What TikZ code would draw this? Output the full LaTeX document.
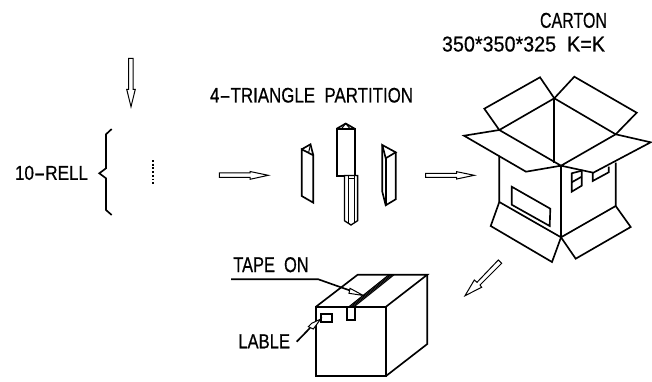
\documentclass[tikz,border=0pt]{standalone}
\usepackage{fontspec}
\usepackage{graphicx}
\setmainfont[FakeBold=0.6]{Liberation Sans}
\newcommand{\fitlabel}[3]{\resizebox{#1pt}{#2pt}{#3}}
\newcommand{\longdash}{\scalebox{2}[1]{-}}
\tikzset{
  lbl/.style={anchor=south west,inner sep=0pt,outer sep=0pt,text=black},
  ln/.style={draw=black,line width=1.65pt,line join=miter},
  thin ln/.style={draw=black,line width=1pt,line join=miter},
  tapeln/.style={draw=black,line width=1.05pt},
  openarrow/.style={draw=black,fill=white,line width=1pt,line join=miter}
}
\begin{document}
\begin{tikzpicture}[x=1pt,y=-1pt]
\useasboundingbox (0,0) rectangle (652,382);
% texts
\node[lbl] (carton) at (540,28) {\fitlabel{67}{15}{CARTON}};
\node[lbl] (size) at (442,51.7) {\fitlabel{163}{15}{350*350*325\ \ K=K}};
\node[lbl] (tri) at (210,102.7) {\fitlabel{203}{14.7}{4\longdash TRIANGLE\ \ PARTITION}};
\node[lbl] (rell) at (15,180) {\fitlabel{73}{14}{10\longdash RELL}};
\node[lbl] (tape) at (233.3,272.3) {\fitlabel{75.4}{15}{TAPE\ \ ON}};
\node[lbl] (lable) at (238.3,348.3) {\fitlabel{51.7}{14}{LABLE}};
% down arrow
\draw[openarrow] (128.7,58.3)--(133,58.3)--(133,89.3)--(135.3,89.3)--(131,106.7)--(126.7,89.3)--(128.7,89.3)--cycle;
% brace
\draw[ln] (111.7,129)--(106,134.3)--(106,168.3)--(99.3,173.3)--(106,178.3)--(106,210)--(111.7,215);
% dots
\draw[black,line width=2pt,dash pattern=on 1.8pt off 1.9pt] (153,160)--(153,185);
% arrow 1
\draw[openarrow] (219.3,172.9)--(250,172.9)--(250,171.5)--(268.3,175.3)--(250,179.3)--(250,177.3)--(219.3,177.3)--cycle;
% partitions: left
\draw[ln] (301.7,149.3)--(301.7,196)--(313.3,202.7)--(313.3,155.3)--cycle;
\draw[ln] (301.7,149.3)--(310.5,144.3)--(313.3,155.3);
\draw[thin ln] (310.5,144.3)--(308.5,153);
% centre
\draw[ln] (345,176)--(336.7,176)--(336.7,128.7)--(354.7,128.7)--(354.7,175);
\draw[ln] (336.7,128.7)--(345.7,123.5)--(354.7,128.7);
\draw[thin ln] (345.7,123.5)--(341.5,128.7) (345.7,123.5)--(350,128.7);
% lower
\draw[black,line width=1.3pt,line join=miter] (344.4,175.5)--(357.6,175.5)--(357.6,220.7)--(351,225)--(344.4,220.7)--cycle;
\draw[thin ln] (348,176)--(348,222.7) (354,176)--(354,222.7) (348,178)--(354,178);
% right
\draw[ln] (382.3,145)--(395.7,152.3)--(385.7,158.3)--cycle;
\draw[ln] (382.3,145)--(382.3,191.7)--(385.7,205.3)--(395.7,199.3)--(395.7,152.3);
\draw[ln] (385.7,158.3)--(385.7,205.3);
% arrow 2
\draw[openarrow] (425.7,173.3)--(456.7,173.3)--(456.7,171.7)--(474.3,175.3)--(456.7,179)--(456.7,177.3)--(425.7,177.3)--cycle;
% carton
\draw[ln] (554.3,98.3)--(540,77.3)--(484.3,108.7)--(499.3,130);
\draw[ln] (554.3,98.3)--(574.3,76.7)--(636.7,112.7)--(615.7,134.3);
\draw[ln] (499.3,130)--(554.3,98.3)--(615.7,134.3);
\draw[ln] (554.3,98.3)--(554.3,163);
\draw[ln] (499.3,130)--(464,135.7)--(526,171.7)--(561,165.7)--cycle;
\draw[ln] (615.7,134.3)--(650.7,142.3)--(593.3,172.7)--(561,165.7)--cycle;
\draw[ln] (561,165.7)--(561,237.3);
\draw[ln] (499.3,156)--(499.3,202)--(561,237.3)--(615.7,206)--(615.7,162.7);
\draw[ln] (499.3,202)--(490.7,226)--(552,262)--(561,237.3)--(575.7,258.7)--(630.7,227)--(615.7,206);
\draw[ln] (511.7,186.7)--(550.3,208.7)--(549.7,226)--(511.7,204.7)--cycle;
\draw[ln] (571.7,173.3)--(581.7,170.7)--(581.7,185.7)--(571.7,191.7)--cycle;
\draw[ln] (571.7,182.3)--(581.7,176.7);
\draw[ln] (592.7,172.7)--(592.7,181)--(608.7,172.3)--(608.7,166.7);
% diagonal arrow
\draw[openarrow] (498.3,260)--(501.7,263.3)--(480,285)--(481.7,287.3)--(465,295.7)--(474.3,280)--(477,282.3)--cycle;
% closed box
\draw[ln] (316,306.7) rectangle (386,376);
\draw[ln] (316,306.7)--(357.7,274.7)--(427.3,274.7)--(386,306.7);
\draw[ln] (427.3,274.7)--(427.3,344)--(386,376);
% tape
\foreach \d in {0,1.7,3.4,5.1}{\draw[tapeln] (349+\d,306.7)--(389+\d,274.7);}
\draw[ln] (347,306.7)--(347,320)--(354.7,320)--(354.7,306.7);
% label sticker
\draw[ln] (321,314) rectangle (332.3,322.3);
% leaders
\coordinate (tapestart) at (231,279.3);
\coordinate (tapebend) at (318.3,279.3);
\coordinate (tapetip) at (363.3,295.5);
\draw[ln] (tapestart)--(tapebend)--(350,290.5);
\draw[openarrow] (350,288.3)--(tapetip)--(349,293.3)--cycle;
\coordinate (labletail) at (296.7,341.7);
\coordinate (labletip) at (320.7,319);
\draw[ln] (labletail)--(310,328);
\draw[openarrow] (308.3,326.7)--(311.7,323.3)--(labletip)--(313.3,329)--cycle;
\end{tikzpicture}
\end{document}
